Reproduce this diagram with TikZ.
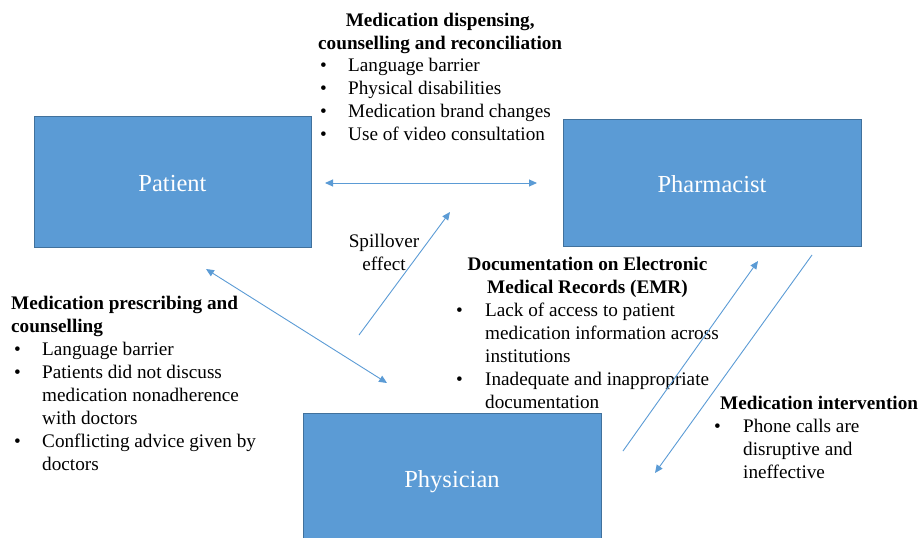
\documentclass[tikz,border=0pt]{standalone}
\usepackage{fontspec}
\setmainfont{Liberation Serif}
\usepackage{array}
\usetikzlibrary{arrows.meta}
\definecolor{boxblue}{HTML}{5B9BD5}
\definecolor{boxedge}{HTML}{41719C}
\newcommand{\bul}{\textbullet &}
\newcommand{\cont}{ &}

\begin{document}
\begin{tikzpicture}
    [
        x=1pt, y=-1pt,
        >={Triangle[length=8pt,width=7pt]},
        actor/.style={draw=boxedge, line width=0.8pt, fill=boxblue, text=white, inner sep=0pt,
                      text height=20pt, text depth=0pt, font=\fontsize{24.5}{28}\selectfont},
        link/.style={->, draw=boxblue, line width=0.9pt},
        notes/.style={anchor=base west, inner sep=0pt, font=\fontsize{19.2}{23}\selectfont}
    ]
    \useasboundingbox (0,0) rectangle (921,538);
    \setlength{\tabcolsep}{0pt}

    \node[actor, minimum width=277pt, minimum height=131pt] (patient) at (172.5,181.5) {Patient};
    \node[actor, minimum width=298pt, minimum height=127pt] (pharmacist) at (712,182.5) {Pharmacist};
    \node[actor, minimum width=298pt, minimum height=128pt] (physician) at (452,477) {Physician};

    % text blocks
    \node[notes] (dispense) at (318,26) {\begin{tabular}[t]{@{}p{30pt}l@{}}
        \multicolumn{2}{c}{\bfseries Medication dispensing,}\\
        \multicolumn{2}{c}{\bfseries counselling and reconciliation}\\
        \hspace*{2pt}\bul Language barrier\\
        \hspace*{2pt}\bul Physical disabilities\\
        \hspace*{2pt}\bul Medication brand changes\\
        \hspace*{2pt}\bul Use of video consultation
    \end{tabular}};
    \node[notes] (prescribe) at (11,309) {\begin{tabular}[t]{@{}p{31pt}l@{}}
        \multicolumn{2}{l}{\bfseries Medication prescribing and}\\
        \multicolumn{2}{l}{\bfseries counselling}\\
        \hspace*{3pt}\bul Language barrier\\
        \hspace*{3pt}\bul Patients did not discuss\\
        \cont medication nonadherence\\
        \cont with doctors\\
        \hspace*{3pt}\bul Conflicting advice given by\\
        \cont doctors
    \end{tabular}};
    \node[notes] (emr) at (456,270) {\begin{tabular}[t]{@{}p{29pt}l@{}}
        \multicolumn{2}{c}{\bfseries Documentation on Electronic}\\
        \multicolumn{2}{c}{\bfseries Medical Records (EMR)}\\
        \bul Lack of access to patient\\
        \cont medication information across\\
        \cont institutions\\
        \bul Inadequate and inappropriate\\
        \cont documentation
    \end{tabular}};
    \node[notes] (intervene) at (714,409) {\begin{tabular}[t]{@{}p{29pt}l@{}}
        \multicolumn{2}{l}{\hspace*{6pt}\bfseries Medication intervention}\\
        \bul Phone calls are\\
        \cont disruptive and\\
        \cont ineffective
    \end{tabular}};
    \node[font=\fontsize{19.2}{23}\selectfont, align=center, inner sep=0pt] (spill) at (384,252) {Spillover\\effect};

    % arrow ends
    \coordinate (pa-e) at (325,183);
    \coordinate (ph-w) at (537,183);
    \coordinate (sp-a) at (359,335);
    \coordinate (sp-b) at (450,212);
    \coordinate (pa-s) at (206,269);
    \coordinate (py-nw) at (387,383);
    \coordinate (py-up) at (623,451);
    \coordinate (ph-sw) at (758,261);
    \coordinate (ph-s) at (812,255);
    \coordinate (py-ne) at (655,473);

    \draw[link, <->] (pa-e) -- (ph-w);
    \draw[link] (sp-a) -- (sp-b);
    \draw[link, <->] (pa-s) -- (py-nw);
    \draw[link] (py-up) -- (ph-sw);
    \draw[link] (ph-s) -- (py-ne);
\end{tikzpicture}
\end{document}
